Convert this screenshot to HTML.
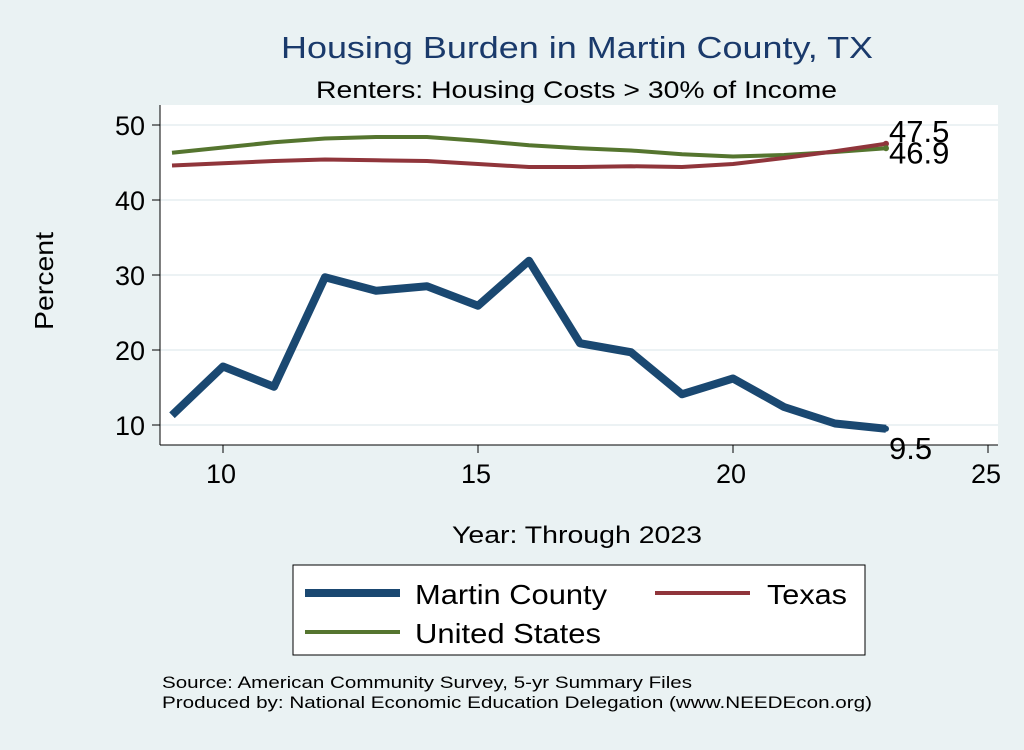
<!DOCTYPE html>
<html><head><meta charset="utf-8"><style>
body{margin:0;background:#eaf2f3;}
svg text{font-family:"Liberation Sans",sans-serif;}
</style></head><body>
<svg width="1024" height="745">
<rect x="0" y="0" width="1024" height="745" fill="#eaf2f3"/>
<rect x="160" y="105" width="838" height="340" fill="#ffffff"/>
<g id="grid"></g>
<line x1="160" y1="105" x2="160" y2="445" stroke="#000" stroke-width="1"/>
<line x1="160" y1="445" x2="998" y2="445" stroke="#000" stroke-width="1"/>
<g id="ticks"></g>
<g id="series"></g>
<text x="281" y="58" font-size="31" fill="#1a3a6b" textLength="592" lengthAdjust="spacingAndGlyphs">Housing Burden in Martin County, TX</text>
<text x="316" y="98" font-size="24" textLength="521" lengthAdjust="spacingAndGlyphs">Renters: Housing Costs &gt; 30% of Income</text>
<text x="53" y="281" font-size="26" text-anchor="middle" textLength="98" lengthAdjust="spacingAndGlyphs" transform="rotate(-90 53 281)">Percent</text>
<text x="452" y="543" font-size="24" textLength="250" lengthAdjust="spacingAndGlyphs">Year: Through 2023</text>
<g>
<rect x="293" y="565" width="572" height="90" fill="#fff" stroke="#000" stroke-width="1"/>
<line x1="305" y1="593" x2="400" y2="593" stroke="#1a4871" stroke-width="8"/>
<text x="415" y="604" font-size="28" textLength="192" lengthAdjust="spacingAndGlyphs">Martin County</text>
<line x1="655" y1="593" x2="750" y2="593" stroke="#90353b" stroke-width="4"/>
<text x="767" y="604" font-size="28" textLength="80" lengthAdjust="spacingAndGlyphs">Texas</text>
<line x1="305" y1="632" x2="400" y2="632" stroke="#55752f" stroke-width="4"/>
<text x="415" y="643" font-size="28" textLength="186" lengthAdjust="spacingAndGlyphs">United States</text>
</g>
<text x="162" y="688" font-size="17" textLength="530" lengthAdjust="spacingAndGlyphs">Source: American Community Survey, 5-yr Summary Files</text>
<text x="162" y="708" font-size="17" textLength="710" lengthAdjust="spacingAndGlyphs">Produced by: National Economic Education Delegation (www.NEEDEcon.org)</text>
</svg>
<script>
const years=[9,10,11,12,13,14,15,16,17,18,19,20,21,22,23];
const martin=[11.3,17.8,15.1,29.7,27.9,28.5,25.9,31.9,20.9,19.7,14.1,16.2,12.4,10.2,9.5];
const texas=[44.6,44.9,45.2,45.4,45.3,45.2,44.8,44.4,44.4,44.5,44.4,44.8,45.6,46.5,47.5];
const us=[46.3,47.0,47.7,48.2,48.4,48.4,47.9,47.3,46.9,46.6,46.1,45.8,46.0,46.4,46.9];
const xTicks=[10,15,20,25];
const yTicks=[10,20,30,40,50];
const NS='http://www.w3.org/2000/svg';
const xs=v=>223+(v-10)*51;
const ys=v=>125+(50-v)*7.5;
function mk(t,a,p){const e=document.createElementNS(NS,t);for(const k in a)e.setAttribute(k,a[k]);p.appendChild(e);return e;}
const grid=document.getElementById('grid'),ticks=document.getElementById('ticks'),ser=document.getElementById('series');
yTicks.forEach(v=>{
 const g=mk('line',{x1:160,x2:998,y1:ys(v),y2:ys(v),stroke:'#e6eef0','stroke-width':1.5},grid);
 
 
 const t=mk('line',{x1:152,x2:160,y1:ys(v),y2:ys(v),stroke:'#000'},ticks);
 
 
 const l=mk('text',{x:145,y:ys(v)+10,'font-size':27,'text-anchor':'end'},ticks);l.textContent=v;
 
 
});
xTicks.forEach(v=>{
 const t=mk('line',{x1:xs(v),x2:xs(v),y1:445,y2:453,stroke:'#000'},ticks);
 
 
 const l=mk('text',{x:xs(v)-2,y:483,'font-size':27,'text-anchor':'middle'},ticks);l.textContent=v;
 
 
});
function line(vals,color,w,name){
 const d=vals.map((v,i)=>(i?'L':'M')+xs(years[i])+','+ys(v)).join(' ');
 const p=mk('path',{d:d,fill:'none',stroke:color,'stroke-width':w,'stroke-linejoin':'round'},ser);
 
 
}
line(us,'#55752f',4,'line-united-states');
line(texas,'#90353b',4,'line-texas');
line(martin,'#1a4871',8,'line-martin-county');
const n=years.length-1;
[[texas,'#90353b','label-texas-last',-2],[us,'#55752f','label-us-last',15],[martin,'#1a4871','label-martin-last',30]].forEach(([arr,c,name,dy])=>{
 const dot=mk('circle',{cx:xs(years[n]),cy:ys(arr[n]),r:3,fill:c},ser);
 
 
 const t=mk('text',{x:xs(years[n])+3,y:ys(arr[n])+dy,'font-size':31},ser);
 t.textContent=arr[n].toFixed(1);
 
 
});
</script>
</body></html>
